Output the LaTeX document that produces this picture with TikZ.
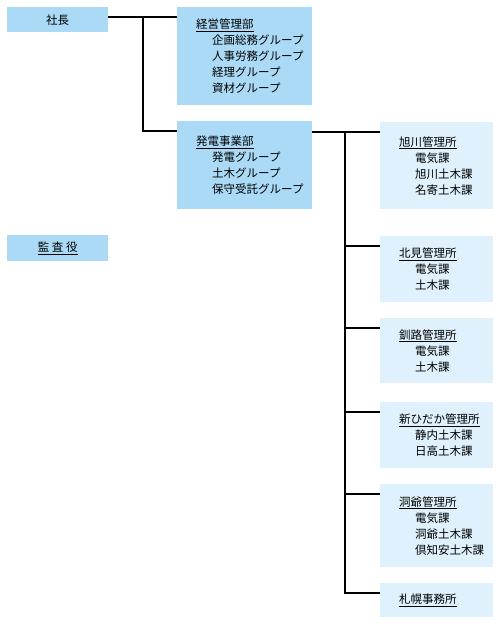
\documentclass[tikz,border=0pt]{standalone}
\usepackage{fontspec}
\setmainfont{Noto Sans CJK JP}
\definecolor{deptblue}{RGB}{170,218,246}
\definecolor{officeblue}{RGB}{222,241,252}
\newcommand{\ind}{\hspace*{16pt}}

\begin{document}
\begin{tikzpicture}[x=1pt, y=-1pt,
      conn/.style={line width=2pt, black},
      head/.style={fill=deptblue, anchor=north west, inner sep=0pt,
                   minimum width=101pt, font=\fontsize{11.5}{16}\selectfont},
      dept/.style={fill=deptblue, anchor=north west, inner sep=0pt,
                   minimum width=135pt},
      office/.style={fill=officeblue, anchor=north west, inner sep=0pt,
                     minimum width=113pt},
      txt/.style={align=left, anchor=west, inner sep=0pt,
                  font=\fontsize{11.5}{16}\selectfont}
    ]
    \useasboundingbox (0,0) rectangle (501,633);
    % left column: top and auditor
    \node[head, minimum height=25pt] (shacho) at (7,7) {社長};
    \node[head, minimum height=26pt] (kansa) at (7,235) {\underline{監 査 役}};
    % middle column: departments
    \node[dept, minimum height=98pt] (keiei) at (177,7) {};
    \node[txt] (keiei-t) at ([xshift=19pt]keiei.west) {%
      \underline{経営管理部}\\
      \ind 企画総務グループ\\
      \ind 人事労務グループ\\
      \ind 経理グループ\\
      \ind 資材グループ};
    \node[dept, minimum height=88pt] (hatsu) at (177,121) {};
    \node[txt] (hatsu-t) at ([xshift=19pt]hatsu.west) {%
      \underline{発電事業部}\\
      \ind 発電グループ\\
      \ind 土木グループ\\
      \ind 保守受託グループ};
    % right column: offices
    \node[office, minimum height=87pt] (asahi) at (380,122) {};
    \node[txt] (asahi-t) at ([xshift=19pt]asahi.west) {%
      \underline{旭川管理所}\\
      \ind 電気課\\
      \ind 旭川土木課\\
      \ind 名寄土木課};
    \node[office, minimum height=66pt] (kitami) at (380,236) {};
    \node[txt] (kitami-t) at ([xshift=19pt]kitami.west) {%
      \underline{北見管理所}\\
      \ind 電気課\\
      \ind 土木課};
    \node[office, minimum height=65pt] (kushiro) at (380,318) {};
    \node[txt] (kushiro-t) at ([xshift=19pt]kushiro.west) {%
      \underline{釧路管理所}\\
      \ind 電気課\\
      \ind 土木課};
    \node[office, minimum height=66pt] (hidaka) at (380,402) {};
    \node[txt] (hidaka-t) at ([xshift=19pt]hidaka.west) {%
      \underline{新ひだか管理所}\\
      \ind 静内土木課\\
      \ind 日高土木課};
    \node[office, minimum height=83pt] (toya) at (380,484) {};
    \node[txt] (toya-t) at ([xshift=19pt]toya.west) {%
      \underline{洞爺管理所}\\
      \ind 電気課\\
      \ind 洞爺土木課\\
      \ind 倶知安土木課};
    \node[office, minimum height=34pt] (sapporo) at (380,583) {};
    \node[txt] (sapporo-t) at ([xshift=19pt]sapporo.west) {\underline{札幌事務所}};

    % where the lines meet the boxes
    \coordinate (keiei-in) at ([yshift=-9.5pt]keiei.north west);
    \coordinate (hatsu-in) at ([yshift=-9.5pt]hatsu.north west);
    \coordinate (asahi-in) at ([yshift=-9.5pt]asahi.north west);
    \coordinate (kitami-in) at ([yshift=-9.5pt]kitami.north west);
    \coordinate (kushiro-in) at ([yshift=-9.5pt]kushiro.north west);
    \coordinate (hidaka-in) at ([yshift=-9.5pt]hidaka.north west);
    \coordinate (toya-in) at ([yshift=-9.5pt]toya.north west);
    \coordinate (sapporo-in) at ([yshift=-9.5pt]sapporo.north west);
    \coordinate (trunk1) at (143,0);
    \coordinate (trunk2) at (345,0);

    \draw[conn] (shacho.east |- keiei-in) -- (keiei-in);
    \draw[conn] (trunk1 |- keiei-in) |- (hatsu-in);
    \draw[conn] (hatsu.east |- asahi-in) -- (asahi-in);
    \draw[conn] (trunk2 |- asahi-in) |- (sapporo-in);
    \draw[conn] (trunk2 |- kitami-in) -- (kitami-in);
    \draw[conn] (trunk2 |- kushiro-in) -- (kushiro-in);
    \draw[conn] (trunk2 |- hidaka-in) -- (hidaka-in);
    \draw[conn] (trunk2 |- toya-in) -- (toya-in);
  \end{tikzpicture}
\end{document}
